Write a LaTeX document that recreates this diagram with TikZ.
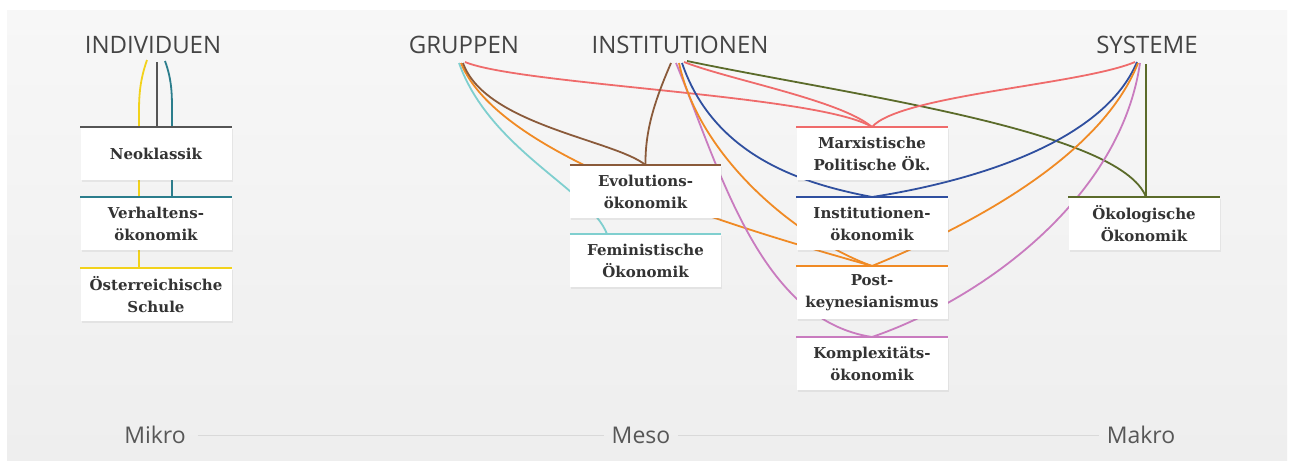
\documentclass[tikz,border=0pt]{standalone}
\usepackage{fontspec}
\setmainfont{DejaVu Serif}
\newfontfamily\headfont{Open Sans}
\usetikzlibrary{shadows}
\definecolor{panelA}{HTML}{F7F7F7}
\definecolor{panelB}{HTML}{EEEEEE}
\definecolor{headtxt}{HTML}{444444}
\definecolor{boxtxt}{HTML}{333333}
\definecolor{cneo}{HTML}{555555}
\definecolor{cteal}{HTML}{2B7D8C}
\definecolor{cyellow}{HTML}{F2D21B}
\definecolor{cbrown}{HTML}{8A5A3A}
\definecolor{ccyan}{HTML}{7FCFCF}
\definecolor{cred}{HTML}{EF6B6B}
\definecolor{cblue}{HTML}{2F4F9F}
\definecolor{corange}{HTML}{F08A24}
\definecolor{cpink}{HTML}{C97BBF}
\definecolor{colive}{HTML}{5B6B2A}
\pgfdeclarelayer{panel}
\pgfdeclarelayer{lines}
\pgfsetlayers{panel,lines,main}
\begin{document}
\begin{tikzpicture}[x=1pt,y=-1pt,
  head/.style={font=\headfont\fontsize{24}{24}\selectfont, text=headtxt, inner sep=0pt},
  bot/.style={font=\headfont\fontsize{23}{23}\selectfont, text=headtxt!90, inner sep=0pt},
  box/.style={fill=white, minimum width=151pt, minimum height=53pt, inner sep=0pt,
    anchor=north, align=center, text=boxtxt,
    font=\fontsize{15}{22.5}\selectfont\bfseries,
    drop shadow={opacity=0.12, shadow xshift=1pt, shadow yshift=-1.5pt}},
  topline/.style={line width=2.6pt},
  conn/.style={line width=1.8pt}]
\useasboundingbox (0,0) rectangle (1290,463);
\begin{pgfonlayer}{panel}
  \fill[white] (0,0) rectangle (1290,463);
  \shade[top color=panelA, bottom color=panelB] (7,10) rectangle (1287,460);
\end{pgfonlayer}

% headers
\node[head] (ind) at (153,45) {INDIVIDUEN};
\node[head] (grp) at (464,45) {GRUPPEN};
\node[head] (ins) at (680,45) {INSTITUTIONEN};
\node[head] (sys) at (1147,45) {SYSTEME};

% bottom scale
\node[bot] (mikro) at (155,435) {Mikro};
\node[bot] (meso) at (641,435) {Meso};
\node[bot] (makro) at (1141,435) {Makro};
\draw[black!15, line width=0.8pt] ([xshift=12pt]mikro.east) -- ([xshift=-8pt]meso.west);
\draw[black!15, line width=0.8pt] ([xshift=8pt]meso.east) -- ([xshift=-8pt]makro.west);

% boxes
\node[box] (neo)  at (156,127) {Neoklassik};
\node[box] (verh) at (156,197) {Verhaltens-\\ökonomik};
\node[box] (oest) at (156,268) {Österreichische\\Schule};
\node[box] (evo)  at (645.5,165) {Evolutions-\\ökonomik};
\node[box] (fem)  at (645.5,234) {Feministische\\Ökonomik};
\node[box] (marx) at (872,127) {Marxistische\\Politische Ök.};
\node[box] (inst) at (872,197) {Institutionen-\\ökonomik};
\node[box] (post) at (872,266) {Post-\\keynesianismus};
\node[box] (komp) at (872,337) {Komplexitäts-\\ökonomik};
\node[box] (oeko) at (1144,197) {Ökologische\\Ökonomik};

% top lines
\draw[topline, cneo]    (neo.north west) -- (neo.north east);
\draw[topline, cteal]   (verh.north west) -- (verh.north east);
\draw[topline, cyellow] (oest.north west) -- (oest.north east);
\draw[topline, cbrown]  (evo.north west) -- (evo.north east);
\draw[topline, ccyan]   (fem.north west) -- (fem.north east);
\draw[topline, cred]    (marx.north west) -- (marx.north east);
\draw[topline, cblue]   (inst.north west) -- (inst.north east);
\draw[topline, corange] (post.north west) -- (post.north east);
\draw[topline, cpink]   (komp.north west) -- (komp.north east);
\draw[topline, colive]  (oeko.north west) -- (oeko.north east);

% connector start points
\coordinate (d1) at (147,60);
\coordinate (d2) at (157,62);
\coordinate (d3) at (165,61);
\coordinate (g1) at (459,63);
\coordinate (g2) at (461,63);
\coordinate (g3) at (463,63);
\coordinate (g4) at (465,62);
\coordinate (i1) at (671,63);
\coordinate (i2) at (676,63);
\coordinate (i3) at (679,63);
\coordinate (i4) at (682,63);
\coordinate (i5) at (684,62);
\coordinate (i6) at (687,61);
\coordinate (s1) at (1135,62);
\coordinate (s2) at (1137,62);
\coordinate (s3) at (1138,63);
\coordinate (s4) at (1140,63);
\coordinate (s5) at (1146,64);

\begin{pgfonlayer}{lines}
  % Individuen
  \draw[conn, cneo] (d2) -- (d2 |- neo.north);
  \draw[conn, cyellow] (d1) .. controls (140,80) and (139,95) .. (139,112) -- ([xshift=-17pt]oest.north);
  \draw[conn, cteal] (d3) .. controls (172,80) and (172,95) .. (172,112) -- ([xshift=16pt]verh.north);
  % Gruppen
  \draw[conn, ccyan] (g1) .. controls (490,150) and (590,190) .. ([xshift=-38.5pt]fem.north);
  \draw[conn, corange] (g2) .. controls (500,160) and (745,230) .. (post.north);
  \draw[conn, cbrown] (g3) .. controls (485,125) and (615,140) .. (evo.north);
  \draw[conn, cred] (g4) .. controls (520,85) and (820,95) .. (marx.north);
  % Institutionen
  \draw[conn, cbrown] (i1) .. controls (655,100) and (645,130) .. (evo.north);
  \draw[conn, cpink] (i2) .. controls (720,170) and (760,320) .. (komp.north);
  \draw[conn, corange] (i3) .. controls (700,160) and (800,240) .. (post.north);
  \draw[conn, cblue] (i4) .. controls (715,160) and (810,185) .. (inst.north);
  \draw[conn, cred] (i5) .. controls (730,80) and (840,100) .. (marx.north);
  \draw[conn, colive] (i6) .. controls (850,95) and (1120,130) .. ([xshift=2pt]oeko.north);
  % Systeme
  \draw[conn, cred] (s1) .. controls (1080,85) and (900,95) .. (marx.north);
  \draw[conn, cblue] (s2) .. controls (1100,150) and (950,185) .. (inst.north);
  \draw[conn, corange] (s3) .. controls (1100,160) and (960,230) .. (post.north);
  \draw[conn, cpink] (s4) .. controls (1120,200) and (980,300) .. (komp.north);
  \draw[conn, colive] (s5) -- (s5 |- oeko.north);
\end{pgfonlayer}
\end{tikzpicture}
\end{document}
